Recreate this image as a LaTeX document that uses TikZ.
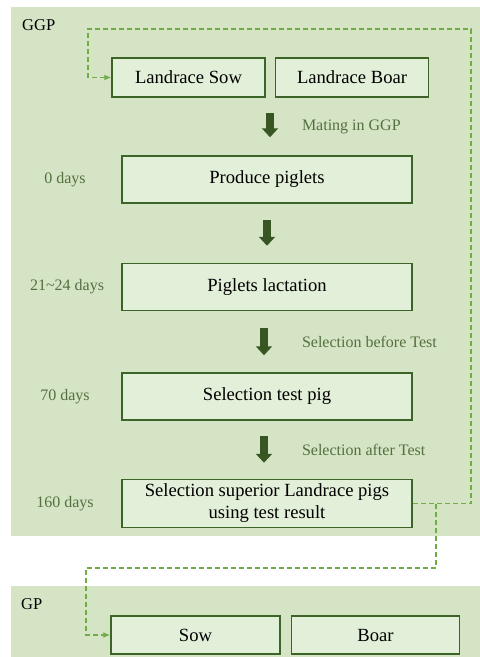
\documentclass[tikz,border=0pt]{standalone}
\usepackage{fontspec}
\setmainfont{Liberation Serif}
\newfontfamily\figfont{Liberation Serif}
\usepackage{tikz}
\usetikzlibrary{arrows.meta}
\usetikzlibrary{positioning}

\definecolor{panelgreen}{RGB}{213,228,197}
\definecolor{boxgreen}{RGB}{226,239,217}
\definecolor{edgegreen}{RGB}{60,100,40}
\definecolor{arrowgreen}{RGB}{55,86,35}
\definecolor{labelgreen}{RGB}{84,112,64}
\definecolor{loopgreen}{RGB}{112,173,71}

\begin{document}
\begin{tikzpicture}[x=1pt, y=-1pt, node distance=59pt]
    \tikzset{stage/.style={draw=edgegreen, fill=boxgreen, line width=1.5pt, rectangle, align=center,
            minimum width=290pt, minimum height=47pt, inner sep=0pt, font=\figfont\fontsize{18.6}{22}\selectfont}}
    \tikzset{pair/.style={stage, minimum width=153pt, minimum height=39pt}}
    \tikzset{gppair/.style={stage, minimum width=169pt, minimum height=38pt}}
    \tikzset{daylabel/.style={text=labelgreen, font=\figfont\fontsize{16}{19}\selectfont}}
    \tikzset{steplabel/.style={text=labelgreen, font=\figfont\fontsize{16}{19}\selectfont, anchor=west, inner sep=0pt}}
    \tikzset{level/.style={font=\figfont\fontsize{16.5}{19}\selectfont, anchor=west, inner sep=0pt}}
    \tikzset{bigarrow/.style={draw=arrowgreen, line width=8pt, -{Triangle[length=9pt, width=16pt]}}}
    \tikzset{feedback/.style={draw=loopgreen, line width=1.3pt, dash pattern=on 5pt off 3pt, -{Latex[length=7pt, width=6pt]}}}

    % panels
    \useasboundingbox (0,0) rectangle (480,657);
    \fill[panelgreen] (11,7) rectangle (480,536);
    \fill[panelgreen] (11,586) rectangle (480,657);
    \node[level] (ggp) at (22,25) {GGP};
    \node[level] (gp) at (21,604) {GP};

    % GGP chain
    \node[pair] (lsow) at (188.5,77.5) {Landrace Sow};
    \node[pair, right=9pt of lsow] (lboar) {Landrace Boar};
    \node[stage] (prod) at (267,179.5) {Produce piglets};
    \node[stage, below=of prod] (lact) {Piglets lactation};
    \node[stage, below=61pt of lact] (test) {Selection test pig};
    \node[stage, below=58pt of test, minimum height=48pt] (sel) {Selection superior Landrace pigs\\using test result};

    \node[daylabel] (d0) at (65,0 |- prod) {0 days};
    \node[daylabel] (d21) at (67,0 |- lact) {21\textasciitilde24 days};
    \node[daylabel] (d70) at (65,0 |- test) {70 days};
    \node[daylabel] (d160) at (65,0 |- sel) {160 days};

    \draw[bigarrow, shorten <=15pt, shorten >=18pt] ([xshift=3pt]prod.north |- lsow.south) -- ([xshift=3pt]prod.north)
        node[steplabel, midway, xshift=28pt] {Mating in GGP};
    \draw[bigarrow, shorten <=16pt, shorten >=17pt] (prod.south) -- (lact.north);
    \draw[bigarrow, shorten <=17pt, shorten >=17pt] ([xshift=-3pt]lact.south) -- ([xshift=-3pt]test.north)
        node[steplabel, midway, xshift=34pt] {Selection before Test};
    \draw[bigarrow, shorten <=15pt, shorten >=16pt] ([xshift=-3pt]test.south) -- ([xshift=-3pt]sel.north)
        node[steplabel, midway, xshift=34pt] {Selection after Test};

    % GP
    \node[gppair] (sow) at (195.5,635) {Sow};
    \node[gppair, right=10pt of sow, minimum width=168pt] (boar) {Boar};

    % dashed loops
    \coordinate (rtop) at (471,29);
    \coordinate (ltop) at (88,29);
    \coordinate (dropr) at (436,568);
    \coordinate (dropl) at (86,568);
    \draw[feedback] (sel.east) -| (rtop) -- (ltop) |- (lsow.west);
    \draw[feedback] (sel.east) -| (dropr) -- (dropl) |- (sow.west);
\end{tikzpicture}
\end{document}
